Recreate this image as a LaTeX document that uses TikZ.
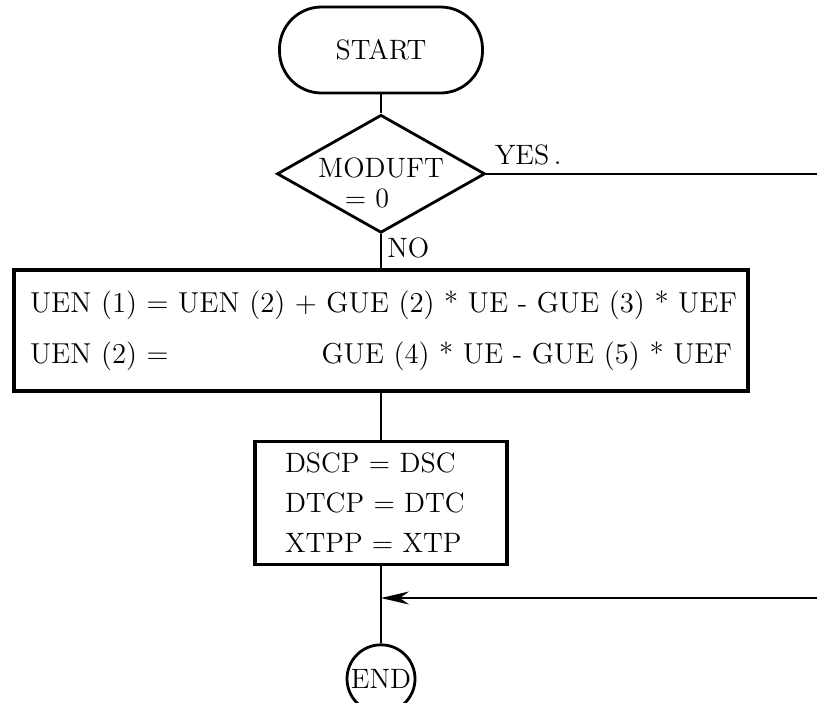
\documentclass[tikz,border=0pt]{standalone}
\usepackage{tikz}
\usetikzlibrary{positioning, arrows.meta, shapes.geometric}

\begin{document}
\begin{tikzpicture}[
x=0.5pt, y=-0.5pt,
every node/.style={font=\fontsize{14}{15}\selectfont},
terminal/.style={rectangle, draw, rounded corners=21pt, minimum width=101.5pt, minimum height=43pt, line width=1.4pt},
decision/.style={diamond, draw, aspect=1.76, inner sep=0pt, minimum width=104pt, minimum height=59pt, line width=1.4pt},
box/.style={rectangle, draw, line width=1.8pt, align=left},
endnode/.style={circle, draw, minimum size=34pt, inner sep=0pt, line width=1.4pt},
line/.style={line width=1pt},
arrow/.style={-{Stealth[length=14pt, width=6.5pt]}, line width=1pt}
]
\useasboundingbox (0,0) rectangle (817,702);

\node[terminal] (start) at (381,50) {START};
\node[decision, below=9.5pt of start] (dec)
  {\raisebox{-10pt}[0pt][0pt]{\begin{tabular}{@{}c@{}}MODUFT\\= 0\kern14pt\end{tabular}}};
\node[box, below=17pt of dec, text width=351pt, inner xsep=8pt, minimum height=60.5pt,
  font=\fontsize{14.4}{25.5}\selectfont] (calc)
  {\makebox[351pt][s]{UEN (1) = UEN (2) + GUE (2) * UE - GUE (3) * UEF}\\
   \makebox[351pt][s]{UEN (2) =\hfill GUE (4) * UE - GUE (5) * UEF}};
\node[box, below=23.5pt of calc, text width=96pt, inner xsep=15pt, minimum height=61.5pt,
  font=\fontsize{14}{20}\selectfont] (save)
  {DSCP = DSC\\DTCP = DTC\\XTPP = XTP};
\node[endnode, below=38.5pt of save] (stop) {END};

% labels of the decision
\node[anchor=south west, inner sep=4pt] (yes) at (dec.east) {YES\,.};
\node[anchor=north west, inner xsep=3pt, inner ysep=1.5pt] (no) at (dec.south) {NO};

% free ends at the right edge
\coordinate (rim_high) at (817,0);
\coordinate (yes_end) at (dec.east -| rim_high);
\coordinate (rim_low) at (817,598);
\coordinate (merge) at (save.south |- rim_low);

\draw[line] (start) -- (dec);
\draw[line] (dec) -- (calc);
\draw[line] (dec.east) -- (yes_end);
\draw[line] (calc) -- (save);
\draw[line] (save) -- (stop);
\draw[arrow] (rim_low) -- (merge);

\end{tikzpicture}
\end{document}
